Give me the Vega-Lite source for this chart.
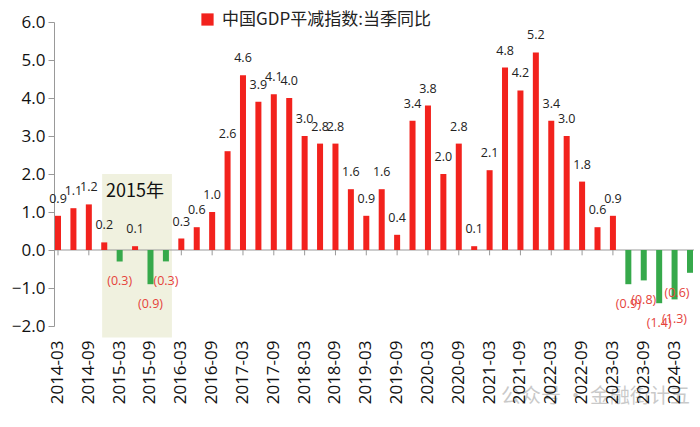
{
  "$schema": "https://vega.github.io/schema/vega-lite/v6.json",
  "width": 640,
  "height": 304,
  "autosize": "none",
  "padding": {"left": 54, "top": 22, "right": 6, "bottom": 101},
  "background": "white",
  "config": {"view": {"stroke": null}, "font": "Open Sans"},
  "data": {"values": [
    {"q": "2014-03", "v": 0.9, "s": "中国GDP平减指数:当季同比"},
    {"q": "2014-06", "v": 1.1, "s": "中国GDP平减指数:当季同比"},
    {"q": "2014-09", "v": 1.2, "s": "中国GDP平减指数:当季同比"},
    {"q": "2014-12", "v": 0.2, "s": "中国GDP平减指数:当季同比"},
    {"q": "2015-03", "v": -0.3, "s": "中国GDP平减指数:当季同比"},
    {"q": "2015-06", "v": 0.1, "s": "中国GDP平减指数:当季同比"},
    {"q": "2015-09", "v": -0.9, "s": "中国GDP平减指数:当季同比"},
    {"q": "2015-12", "v": -0.3, "s": "中国GDP平减指数:当季同比"},
    {"q": "2016-03", "v": 0.3, "s": "中国GDP平减指数:当季同比"},
    {"q": "2016-06", "v": 0.6, "s": "中国GDP平减指数:当季同比"},
    {"q": "2016-09", "v": 1.0, "s": "中国GDP平减指数:当季同比"},
    {"q": "2016-12", "v": 2.6, "s": "中国GDP平减指数:当季同比"},
    {"q": "2017-03", "v": 4.6, "s": "中国GDP平减指数:当季同比"},
    {"q": "2017-06", "v": 3.9, "s": "中国GDP平减指数:当季同比"},
    {"q": "2017-09", "v": 4.1, "s": "中国GDP平减指数:当季同比"},
    {"q": "2017-12", "v": 4.0, "s": "中国GDP平减指数:当季同比"},
    {"q": "2018-03", "v": 3.0, "s": "中国GDP平减指数:当季同比"},
    {"q": "2018-06", "v": 2.8, "s": "中国GDP平减指数:当季同比"},
    {"q": "2018-09", "v": 2.8, "s": "中国GDP平减指数:当季同比"},
    {"q": "2018-12", "v": 1.6, "s": "中国GDP平减指数:当季同比"},
    {"q": "2019-03", "v": 0.9, "s": "中国GDP平减指数:当季同比"},
    {"q": "2019-06", "v": 1.6, "s": "中国GDP平减指数:当季同比"},
    {"q": "2019-09", "v": 0.4, "s": "中国GDP平减指数:当季同比"},
    {"q": "2019-12", "v": 3.4, "s": "中国GDP平减指数:当季同比"},
    {"q": "2020-03", "v": 3.8, "s": "中国GDP平减指数:当季同比"},
    {"q": "2020-06", "v": 2.0, "s": "中国GDP平减指数:当季同比"},
    {"q": "2020-09", "v": 2.8, "s": "中国GDP平减指数:当季同比"},
    {"q": "2020-12", "v": 0.1, "s": "中国GDP平减指数:当季同比"},
    {"q": "2021-03", "v": 2.1, "s": "中国GDP平减指数:当季同比"},
    {"q": "2021-06", "v": 4.8, "s": "中国GDP平减指数:当季同比"},
    {"q": "2021-09", "v": 4.2, "s": "中国GDP平减指数:当季同比"},
    {"q": "2021-12", "v": 5.2, "s": "中国GDP平减指数:当季同比"},
    {"q": "2022-03", "v": 3.4, "s": "中国GDP平减指数:当季同比"},
    {"q": "2022-06", "v": 3.0, "s": "中国GDP平减指数:当季同比"},
    {"q": "2022-09", "v": 1.8, "s": "中国GDP平减指数:当季同比"},
    {"q": "2022-12", "v": 0.6, "s": "中国GDP平减指数:当季同比"},
    {"q": "2023-03", "v": 0.9, "s": "中国GDP平减指数:当季同比"},
    {"q": "2023-06", "v": -0.9, "s": "中国GDP平减指数:当季同比"},
    {"q": "2023-09", "v": -0.8, "s": "中国GDP平减指数:当季同比"},
    {"q": "2023-12", "v": -1.4, "s": "中国GDP平减指数:当季同比"},
    {"q": "2024-03", "v": -1.3, "s": "中国GDP平减指数:当季同比"},
    {"q": "2024-06", "v": -0.6, "s": "中国GDP平减指数:当季同比"}
  ]},
  "encoding": {
    "x": {
      "field": "q", "type": "ordinal",
      "scale": {"paddingInner": 0.61, "paddingOuter": 0.065},
      "axis": {
        "title": null, "labelAngle": -90, "labelFontSize": 17, "labelColor": "#111",
        "domain": false, "ticks": false, "labelPadding": 14,
        "labelExpr": "test(/-0[39]$/, datum.label) ? datum.label : ''"
      }
    },
    "y": {
      "field": "v", "type": "quantitative",
      "scale": {"domain": [-2, 6], "nice": false, "zero": true},
      "axis": {
        "title": null, "values": [-2, -1, 0, 1, 2, 3, 4, 5, 6], "format": ".1f",
        "labelFontSize": 17, "labelColor": "#111", "grid": false, "labelOverlap": false,
        "domainColor": "#999999", "tickColor": "#999999", "tickSize": 6, "labelPadding": 3
      }
    }
  },
  "layer": [
    {
      "data": {"values": [{"from": "2014-12", "to": "2015-12", "top": 2.0, "bottom": -2.3}]},
      "mark": {"type": "rect", "color": "#F0F1DF", "clip": false},
      "encoding": {
        "x": {"field": "from", "type": "ordinal", "bandPosition": 0.15},
        "x2": {"field": "to", "bandPosition": 1.5},
        "y": {"field": "top", "type": "quantitative"},
        "y2": {"field": "bottom"}
      }
    },
    {
      "data": {"values": [{"zero": 0}]},
      "mark": {"type": "rule", "color": "#999999", "strokeWidth": 1},
      "encoding": {"x": null, "y": {"field": "zero", "type": "quantitative"}}
    },
    {
      "transform": [{"filter": "test(/-0[39]$/, datum.q)"}],
      "mark": {"type": "rule", "color": "#999999", "strokeWidth": 1},
      "encoding": {"y": {"datum": 0}, "y2": {"datum": -0.14}}
    },
    {
      "mark": {"type": "bar"},
      "encoding": {
        "color": {
          "condition": {"test": "datum.v < 0", "value": "#36A94B"},
          "field": "s", "type": "nominal",
          "scale": {"range": ["#F2221D"]},
          "legend": {
            "title": null, "orient": "none", "legendX": 145, "legendY": -11,
            "symbolType": "square", "symbolSize": 150, "symbolStrokeWidth": 0,
            "labelFont": "Noto Sans CJK SC", "labelFontSize": 17, "labelColor": "#222",
            "labelOffset": 6, "labelLimit": 0
          }
        }
      }
    },
    {
      "transform": [{"filter": "datum.v >= 0"}],
      "mark": {"type": "text", "baseline": "middle", "dy": -17, "fontSize": 12.5, "color": "#222"},
      "encoding": {
        "text": {"field": "v", "type": "quantitative", "format": ".1f"}
      }
    },
    {
      "transform": [{"filter": "datum.v < 0 && datum.q != '2024-06'"}],
      "mark": {"type": "text", "baseline": "middle", "dy": 20, "fontSize": 12.5, "color": "#E5433B"},
      "encoding": {
        "text": {"field": "v", "type": "quantitative", "format": "(.1f"}
      }
    },
    {
      "transform": [{"filter": "datum.q == '2024-06'"}],
      "mark": {"type": "text", "baseline": "middle", "dy": 20, "dx": -13, "fontSize": 12.5, "color": "#E5433B"},
      "encoding": {
        "text": {"field": "v", "type": "quantitative", "format": "(.1f"}
      }
    },
    {
      "data": {"values": [{"q": "2015-06", "y": 1.53, "label": "2015年"}]},
      "mark": {"type": "text", "fontSize": 18, "color": "#111", "font": "Noto Sans CJK SC", "baseline": "middle"},
      "encoding": {"x": {"field": "q", "type": "ordinal"}, "y": {"field": "y", "type": "quantitative"}, "text": {"field": "label"}}
    },
    {
      "data": {"values": [{"q": "2021-06", "y": -3.87, "label": "公众号 · 金融街计五"}]},
      "mark": {"type": "text", "fontSize": 20, "color": "#8a8a8a", "opacity": 0.45, "font": "Noto Sans CJK SC", "baseline": "middle", "align": "left", "dx": -4},
      "encoding": {"x": {"field": "q", "type": "ordinal"}, "y": {"field": "y", "type": "quantitative"}, "text": {"field": "label"}}
    }
  ]
}
